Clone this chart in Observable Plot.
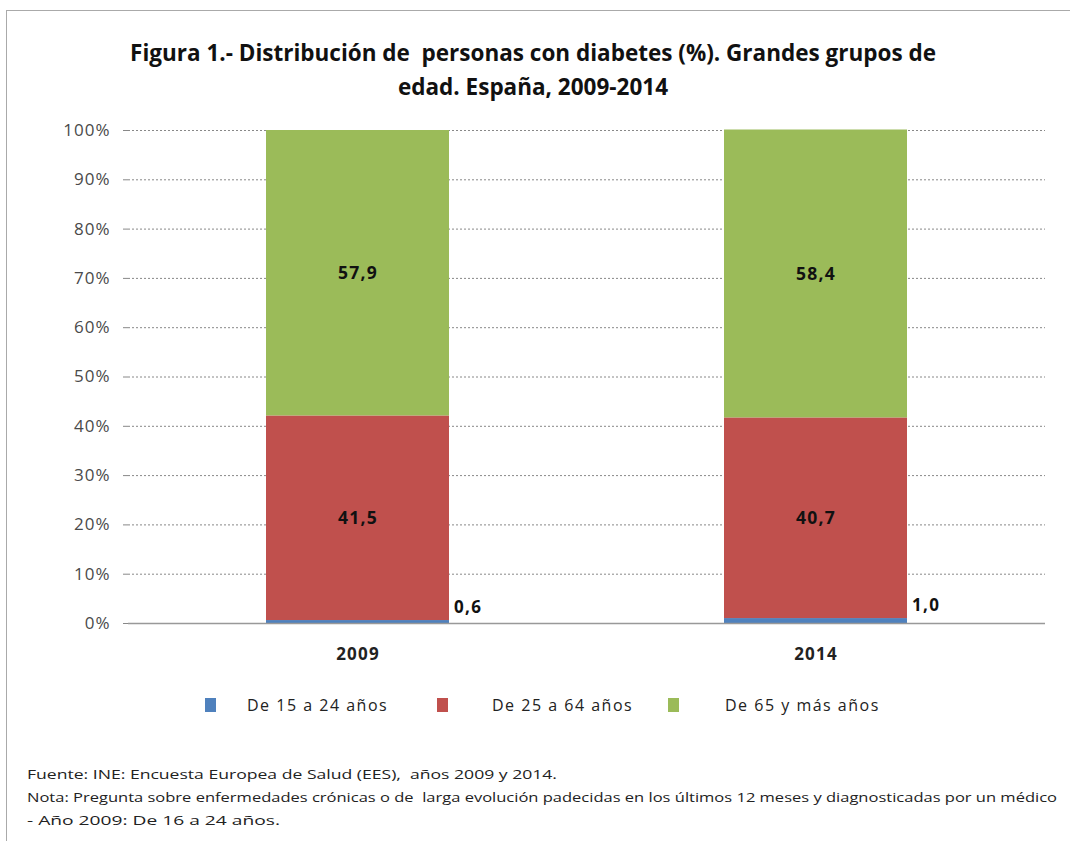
<!DOCTYPE html>
<html>
<head>
<meta charset="utf-8">
<script src="https://cdn.jsdelivr.net/npm/d3@7"></script>
<script src="https://cdn.jsdelivr.net/npm/@observablehq/plot@0.6"></script>
<style>
  body { margin:0; background:#fff; font-family:"Open Sans", sans-serif; }
  #frame { position:absolute; left:6px; top:10px; width:1080px; height:840px; border:1px solid #aaa; box-sizing:border-box; }
  #title { position:absolute; left:0; width:1066px; top:36px; text-align:center; font-weight:bold; font-size:22.5px; line-height:34px; color:#111; }
  #chart { position:absolute; left:0; top:110px; }
  #legend { position:absolute; top:694px; left:0; width:1070px; font-size:16px; color:#222; }
  .sw { position:absolute; width:11px; height:14px; top:4px; }
  .lt { position:absolute; top:0; letter-spacing:1.5px; white-space:nowrap; }
  .foot { position:absolute; left:27px; font-size:12.5px; color:#222; white-space:nowrap; transform-origin:left center; }
</style>
</head>
<body>
<div id="frame"></div>
<div id="title">Figura 1.- Distribución de&nbsp; personas con diabetes (%). Grandes grupos de<br>edad. España, 2009-2014</div>
<div id="chart"></div>
<div id="legend"></div>
<div class="foot" id="f1" style="top:766px">Fuente: INE: Encuesta Europea de Salud (EES),&nbsp; años 2009 y 2014.</div>
<div class="foot" id="f2" style="top:789px">Nota: Pregunta sobre enfermedades crónicas o de&nbsp; larga evolución padecidas en los últimos 12 meses y diagnosticadas por un médico</div>
<div class="foot" id="f3" style="top:812px">- Año 2009: De 16 a 24 años.</div>
<script>
const years = ["2009", "2014"];
const groups = ["De 15 a 24 años", "De 25 a 64 años", "De 65 y más años"];
const v15to24 = [0.6, 1.0];
const v25to64 = [41.5, 40.7];
const v65plus = [57.9, 58.4];
const colors = ["#4F81BD", "#C0504D", "#9BBB59"];
const yTicks = [0, 10, 20, 30, 40, 50, 60, 70, 80, 90, 100];

const data = years.flatMap((y, i) => [
  {year: y, group: groups[0], value: v15to24[i]},
  {year: y, group: groups[1], value: v25to64[i]},
  {year: y, group: groups[2], value: v65plus[i]}
]);
const fmt = v => v.toFixed(1).replace(".", ",");

const chart = Plot.plot({
  width: 1070,
  height: 563,
  marginLeft: 128,
  marginRight: 25,
  marginTop: 20,
  marginBottom: 50,
  style: {fontFamily: "Open Sans, sans-serif", background: "transparent"},
  x: {domain: years, paddingInner: 0.6, paddingOuter: 0.3, label: null},
  y: {domain: [0, 100], label: null},
  color: {domain: groups, range: colors},
  marks: [
    Plot.gridY(yTicks, {stroke: "#888", strokeOpacity: 1, strokeDasharray: "2,2"}),
    Plot.barY(data, {x: "year", y: "value", fill: "group", order: groups}),
    Plot.ruleY([0], {stroke: "#999", strokeWidth: 1.5}),
    Plot.axisY(yTicks, {tickFormat: d => d + "%", tickSize: 5, tickPadding: 13, fontSize: 17, fill: "#4a4a4a", stroke: "#888", line: true, label: null}),
    Plot.axisX({tickSize: 0, tickPadding: 24, fontSize: 17, fontWeight: "bold", fill: "#222", label: null}),
    Plot.text(data, Plot.stackY({x: "year", y: "value", z: "group", order: groups,
      text: d => d.group === groups[0] ? "" : fmt(d.value),
      fontSize: 17.5, fontWeight: "bold", fill: "#111"})),
    Plot.text(data.filter(d => d.group === groups[0]), {x: "year", y: "value", text: d => fmt(d.value),
      dx: 96, dy: -13, textAnchor: "start", fontSize: 17, fontWeight: "bold", fill: "#111"})
  ]
});
chart.querySelectorAll('g[aria-label="y-axis tick label"] text').forEach(t => t.setAttribute("letter-spacing", "1px"));
chart.querySelectorAll('g[aria-label="x-axis tick label"] text').forEach(t => t.setAttribute("letter-spacing", "1.2px"));
chart.querySelectorAll('g[aria-label="text"] text').forEach(t => t.setAttribute("letter-spacing", "1.3px"));
document.getElementById("chart").appendChild(chart);

// legend
const legend = document.getElementById("legend");
const swatchX = [205, 437, 668];
const labelX = [247, 492, 725];
groups.forEach((g, i) => {
  const sw = document.createElement("span");
  sw.className = "sw";
  sw.style.left = swatchX[i] + "px";
  sw.style.background = colors[i];
  legend.appendChild(sw);
  const t = document.createElement("span");
  t.className = "lt";
  t.style.left = labelX[i] + "px";
  t.textContent = g;
  legend.appendChild(t);
});

// stretch footer lines to reference widths
const targets = {f1: 530, f2: 1030, f3: 253};
Object.entries(targets).forEach(([id, w]) => {
  const el = document.getElementById(id);
  const cw = el.getBoundingClientRect().width;
  el.style.transform = `scaleX(${w / cw})`;
});
</script>
</body>
</html>
